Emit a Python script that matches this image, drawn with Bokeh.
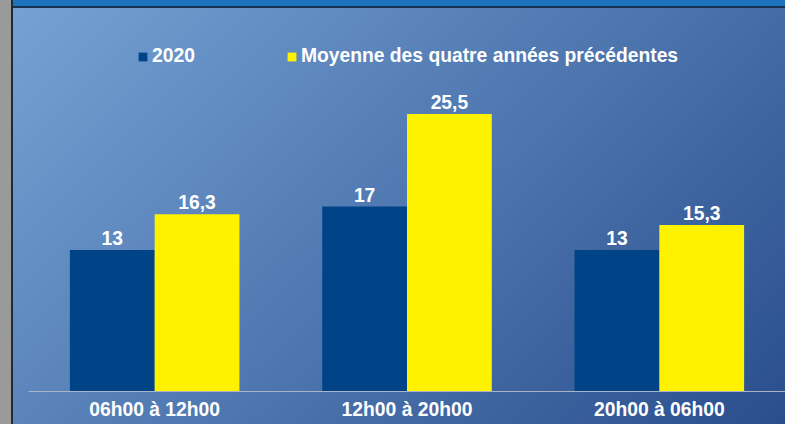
from bokeh.plotting import figure
from bokeh.models import ColumnDataSource, Range1d, FactorRange, Legend, LegendItem
from bokeh.transform import dodge
from bokeh.core.properties import value
from bokeh.embed import file_html
from bokeh.resources import INLINE

categories = ["06h00 à 12h00", "12h00 à 20h00", "20h00 à 06h00"]
series_names = ["2020", "Moyenne des quatre années précédentes"]
values_2020 = [13, 17, 13]
values_avg = [16.3, 25.5, 15.3]


def fmt(v):
    return f"{v:g}".replace(".", ",")


src = ColumnDataSource(dict(
    cat=categories,
    a=values_2020,
    b=values_avg,
    la=[fmt(v) for v in values_2020],
    lb=[fmt(v) for v in values_avg],
))

FONT = "Liberation Sans"
FS = "19.3px"
BW = 0.336

p = figure(
    width=785, height=424,
    x_range=FactorRange(factors=categories, range_padding=0),
    y_range=Range1d(0, 35.2),
    output_backend="svg", toolbar_location=None,
    y_axis_location=None,
    min_border_left=28, min_border_right=0, min_border_top=8, min_border_bottom=33,
)
p.background_fill_alpha = 0
p.border_fill_alpha = 0
p.outline_line_color = None
p.grid.visible = False

r1 = p.vbar(x=dodge("cat", -BW / 2, range=p.x_range), top="a", width=BW, source=src,
            fill_color="#004387", line_color=None)
r2 = p.vbar(x=dodge("cat", BW / 2, range=p.x_range), top="b", width=BW, source=src,
            fill_color="#fff200", line_color=None)

for col, lab, off in (("a", "la", -BW / 2), ("b", "lb", BW / 2)):
    p.text(x=dodge("cat", off, range=p.x_range), y=col, text=lab, source=src,
           text_align="center", text_baseline="bottom", y_offset=-5,
           text_color="white", text_font=value(FONT), text_font_style="bold",
           text_font_size=FS)

legend = Legend(
    items=[LegendItem(label=series_names[0], renderers=[r1]),
           LegendItem(label=series_names[1], renderers=[r2])],
    orientation="horizontal", location=(109, 324),
    glyph_width=11, glyph_height=11, label_standoff=4, spacing=91,
    padding=0, margin=0, border_line_alpha=0, background_fill_alpha=0,
    label_text_font=FONT, label_text_font_style="bold", label_text_font_size=FS,
    label_text_color="white",
)
p.add_layout(legend)

ax = p.xaxis[0]
ax.axis_line_color = "#aab4c6"
ax.major_tick_line_color = None
ax.major_tick_out = 0
ax.major_tick_in = 0
ax.minor_tick_line_color = None
ax.major_label_text_color = "white"
ax.major_label_text_font = FONT
ax.major_label_text_font_style = "bold"
ax.major_label_text_font_size = FS
ax.major_label_standoff = 7

p.styles = {
    "background-image": (
        "linear-gradient(to right, #9a9a9a 0px, #9a9a9a 11px, #1f2b3b 11px, #1f2b3b 13px, transparent 13px),"
        "linear-gradient(to bottom, #1b74bd 0px, #1b74bd 6px, #17304d 6px, #17304d 8px, transparent 8px),"
        "linear-gradient(135deg, #76a3d5 0%, #2a4e8d 100%)"
    ),
}

open("out.html", "w").write(file_html(p, INLINE))
